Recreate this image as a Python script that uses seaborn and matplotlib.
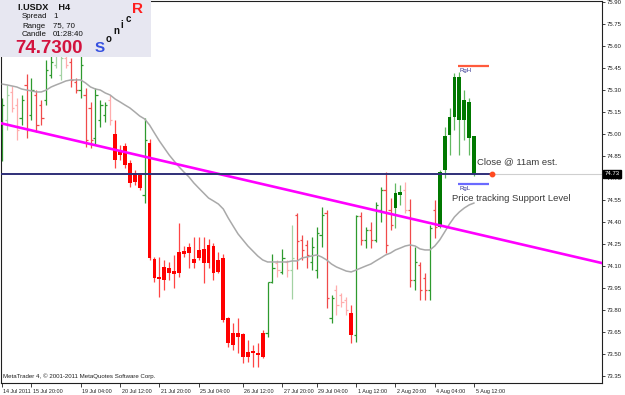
import numpy as np
import matplotlib
matplotlib.use("Agg")
import matplotlib.pyplot as plt
import matplotlib.transforms as mtransforms
from matplotlib.patches import Rectangle
import seaborn as sns

# ---------------- data (I.USDX, H4) ----------------
opens = [74.959, 75.095, 75.286, 75.197, 75.109, 75.334, 75.129, 75.265, 75.197, 75.231,
         75.402, 75.470, 75.402, 75.518, 75.490, 75.354, 75.299, 75.265, 75.177, 74.972,
         75.095, 75.129, 75.231, 74.999, 74.890, 74.918, 74.802, 74.734, 74.720, 74.584,
         74.938, 74.147, 74.025, 74.093, 74.086, 74.065, 74.195, 74.202, 74.229, 74.147,
         74.209, 74.216, 74.243, 74.236, 74.141, 74.154, 73.745, 73.643, 73.643, 73.636,
         73.514, 73.520, 73.507, 73.643, 73.643, 73.991, 74.120, 74.059, 74.127, 74.072,
         74.447, 74.277, 74.243, 74.127, 74.072, 74.311, 74.461, 73.745, 73.936, 73.902,
         73.868, 73.779, 73.629, 74.441, 74.277, 74.345, 74.277, 74.481, 74.618, 74.481,
         74.495, 74.584, 74.618, 74.481, 74.004, 74.106, 74.018, 73.936, 74.481, 74.366,
         74.754, 74.993, 75.115, 75.388, 75.095, 75.218, 74.986]
highs = [75.245, 75.334, 75.327, 75.245, 75.265, 75.409, 75.381, 75.299, 75.231, 75.504,
         75.572, 75.572, 75.572, 75.538, 75.518, 75.381, 75.572, 75.313, 75.218, 75.313,
         75.231, 75.218, 75.265, 75.095, 74.925, 74.938, 74.822, 74.754, 74.734, 75.109,
         74.965, 74.161, 74.161, 74.141, 74.127, 74.175, 74.393, 74.236, 74.256, 74.297,
         74.297, 74.297, 74.284, 74.256, 74.195, 74.181, 73.752, 73.711, 73.745, 73.643,
         73.595, 73.561, 73.575, 73.663, 73.991, 74.181, 74.141, 74.216, 74.141, 74.379,
         74.461, 74.311, 74.277, 74.297, 74.366, 74.502, 74.481, 73.902, 73.970, 73.916,
         73.888, 73.834, 74.447, 74.468, 74.366, 74.400, 74.536, 74.638, 74.740, 74.563,
         74.666, 74.652, 74.672, 74.557, 74.229, 74.127, 74.052, 74.379, 74.550, 74.754,
         75.047, 75.177, 75.415, 75.422, 75.299, 75.245, 74.986]
lows = [74.815, 75.027, 75.150, 74.959, 75.061, 74.972, 75.095, 75.013, 75.061, 75.197,
        75.381, 75.449, 75.368, 75.449, 75.320, 75.279, 75.245, 74.911, 74.904, 74.925,
        75.047, 75.081, 75.061, 74.768, 74.822, 74.768, 74.638, 74.652, 74.618, 74.529,
        74.141, 73.991, 73.888, 73.936, 74.004, 73.950, 74.025, 74.161, 74.086, 74.086,
        74.141, 73.984, 74.086, 74.004, 74.052, 73.718, 73.548, 73.527, 73.507, 73.439,
        73.445, 73.411, 73.411, 73.473, 73.616, 73.984, 74.025, 74.045, 74.025, 73.875,
        74.079, 74.141, 74.086, 74.072, 74.018, 74.229, 73.813, 73.711, 73.766, 73.820,
        73.766, 73.575, 73.582, 74.243, 74.222, 74.222, 74.263, 74.400, 74.188, 74.345,
        74.359, 74.516, 74.461, 73.957, 73.936, 73.868, 73.868, 73.868, 74.291, 74.359,
        74.700, 74.856, 75.027, 74.856, 74.959, 74.856, 74.713]
closes = [75.197, 75.265, 75.177, 75.027, 75.231, 75.027, 75.299, 75.061, 75.109, 75.436,
          75.490, 75.538, 75.518, 75.470, 75.368, 75.299, 75.470, 74.959, 74.959, 75.265,
          75.197, 75.197, 75.095, 74.822, 74.856, 74.788, 74.666, 74.672, 74.631, 74.959,
          74.154, 74.018, 74.011, 74.004, 74.052, 74.045, 74.052, 74.181, 74.188, 74.120,
          74.154, 74.120, 74.120, 74.052, 74.059, 73.732, 73.575, 73.561, 73.616, 73.479,
          73.479, 73.507, 73.493, 73.479, 73.991, 74.086, 74.072, 74.154, 74.072, 74.154,
          74.270, 74.209, 74.175, 74.229, 74.325, 74.447, 73.881, 73.881, 73.834, 73.854,
          73.800, 73.629, 74.441, 74.277, 74.345, 74.277, 74.516, 74.618, 74.243, 74.379,
          74.597, 74.604, 74.481, 74.004, 74.127, 73.936, 73.936, 74.359, 74.366, 74.740,
          74.986, 75.115, 75.388, 75.095, 75.231, 74.972, 74.730]
# B = bar, L = pale bar, C = candle ; g = green, r = red
styles = ["Bg", "Lg", "Lr", "Lr", "Bg", "Br", "Bg", "Br", "Br", "Bg",
          "Bg", "Lg", "Lg", "Lr", "Br", "Br", "Bg", "Br", "Br", "Bg",
          "Bg", "Bg", "Lr", "Cr", "Cr", "Cr", "Cr", "Cr", "Cr", "Bg",
          "Cr", "Cr", "Cr", "Cr", "Cr", "Cr", "Cr", "Cr", "Cr", "Cr",
          "Cr", "Cr", "Cr", "Cr", "Cr", "Cr", "Cr", "Cr", "Cr", "Cr",
          "Cr", "Cr", "Cr", "Cr", "Bg", "Bg", "Lr", "Bg", "Lr", "Lg",
          "Br", "Br", "Br", "Bg", "Bg", "Bg", "Br", "Bg", "Lr", "Lr",
          "Lr", "Cr", "Bg", "Br", "Bg", "Br", "Bg", "Bg", "Br", "Br",
          "Cg", "Cg", "Lr", "Br", "Bg", "Br", "Br", "Bg", "Br", "Cg",
          "Cg", "Cg", "Cg", "Cg", "Cg", "Cg", "Cg"]
ma = [75.340, 75.334, 75.327, 75.320, 75.306, 75.299, 75.293, 75.286, 75.286, 75.299,
      75.320, 75.334, 75.347, 75.361, 75.368, 75.368, 75.368, 75.347, 75.320, 75.306,
      75.299, 75.279, 75.265, 75.238, 75.218, 75.197, 75.177, 75.150, 75.122, 75.102,
      75.061, 75.006, 74.952, 74.904, 74.856, 74.815, 74.775, 74.740, 74.707, 74.666,
      74.631, 74.597, 74.563, 74.543, 74.522, 74.488, 74.427, 74.372, 74.318, 74.277,
      74.236, 74.202, 74.168, 74.141, 74.127, 74.127, 74.127, 74.127, 74.127, 74.134,
      74.134, 74.154, 74.161, 74.168, 74.175, 74.161, 74.141, 74.113, 74.093, 74.079,
      74.065, 74.059, 74.072, 74.086, 74.100, 74.113, 74.134, 74.154, 74.175, 74.188,
      74.209, 74.222, 74.236, 74.243, 74.236, 74.216, 74.209, 74.209, 74.236, 74.277,
      74.331, 74.386, 74.434, 74.468, 74.495, 74.516, 74.529]

tick_bars = [0, 6, 16, 24, 32, 40, 49, 57, 64, 72, 80, 88, 96]
tick_labels = ["14 Jul 2011", "15 Jul 20:00", "19 Jul 04:00", "20 Jul 12:00",
               "21 Jul 20:00", "25 Jul 04:00", "26 Jul 12:00", "27 Jul 20:00",
               "29 Jul 04:00", "1 Aug 12:00", "2 Aug 20:00", "4 Aug 04:00", "5 Aug 12:00"]
price_ticks = [75.90, 75.75, 75.60, 75.45, 75.30, 75.15, 75.00, 74.85, 74.70,
               74.55, 74.40, 74.25, 74.10, 73.95, 73.80, 73.65, 73.50, 73.35]
last_price = 74.73
close_mark_bar = 99.6
trend_a = (0, 75.071)
trend_b = (120, 74.135)
range_high = 75.463
range_low = 74.659
range_bars = (92.7, 99.0)

# ---------------- figure ----------------
sns.set_style("white")
plt.rcParams["font.family"] = ["Liberation Sans", "DejaVu Sans"]

W, H = 625, 395
fig = plt.figure(figsize=(W / 100, H / 100), dpi=100)
ax = fig.add_axes([1 / W, 12 / H, 601 / W, 382 / H])
ax.set_xlim(-0.2, 122.0)
ax.set_ylim(73.302, 75.906)

bar_cols = {"Bg": "#2e9a2e", "Lg": "#a3d2a3", "Br": "#f04a4a", "Lr": "#ffadad"}
for i, (o, h, l, c, s) in enumerate(zip(opens, highs, lows, closes, styles)):
    if s[0] in "BL":
        col = bar_cols[s]
        ax.vlines(i, l, h, color=col, lw=0.9, zorder=2)
        ax.hlines(o, i - 0.45, i, color=col, lw=0.9, zorder=2)
        ax.hlines(c, i, i + 0.45, color=col, lw=0.9, zorder=2)
    else:
        body = "#ff0000" if s == "Cr" else "#007800"
        wick = "#ff4545" if s == "Cr" else "#62b862"
        ax.vlines(i, l, h, color=wick, lw=0.9, zorder=2)
        lo, hi = min(o, c), max(o, c)
        ax.bar(i, max(hi - lo, 0.008), bottom=lo, width=0.78, color=body,
               linewidth=0, zorder=3)

x = np.arange(len(ma))
sns.lineplot(x=x, y=ma, color="#a9a9a9", lw=1.1, ax=ax, zorder=4)

ax.axline(trend_a, trend_b, color="#ff00ff", lw=1.9, zorder=5)
ax.hlines(last_price, -0.2, close_mark_bar, color="#2f2f78", lw=1.4, zorder=5)
ax.hlines(last_price, close_mark_bar, 122.0, color="#cfcfcf", lw=0.8, zorder=1)
ax.plot([close_mark_bar], [last_price], "o", ms=3.2, color="#ff4a20", zorder=6)

ax.hlines(range_high, *range_bars, color="#ff5a3c", lw=1.6, zorder=5)
ax.hlines(range_low, *range_bars, color="#6a6aff", lw=1.6, zorder=5)
ax.text(range_bars[0] + 0.3, range_high - 0.012, "RgH", fontsize=4.3, color="#303090",
        va="top", ha="left", zorder=6)
ax.text(range_bars[0] + 0.3, range_low - 0.012, "RgL", fontsize=4.3, color="#303090",
        va="top", ha="left", zorder=6)

ax.text(96.5, 74.809, "Close @ 11am est.", fontsize=6.8, color="#3a3a3a",
        va="center", ha="left", zorder=6)
ax.text(91.5, 74.563, "Price tracking Support Level", fontsize=6.8, color="#3a3a3a",
        va="center", ha="left", zorder=6)

# axes styling
for sp in ax.spines.values():
    sp.set_color("#202020")
    sp.set_linewidth(0.8)
ax.yaxis.tick_right()
ax.set_yticks(price_ticks)
ax.set_yticklabels([f"{p:.2f}" for p in price_ticks])
ax.tick_params(axis="y", direction="out", length=2, width=0.6, pad=1.5,
               labelsize=4.3, colors="#202020", right=True, left=False)
ax.set_xticks(tick_bars)
ax.set_xticklabels(tick_labels, ha="left")
ax.tick_params(axis="x", direction="out", length=3, width=0.6, pad=1.2,
               labelsize=3.9, colors="#202020", bottom=True)
shift = mtransforms.ScaledTranslation(1.5 / 100, 0, fig.dpi_scale_trans)
for lbl in ax.get_xticklabels():
    lbl.set_transform(lbl.get_transform() + shift)
ax.set_xlabel("")
ax.set_ylabel("")

ax.text(1.004, last_price, f"{last_price:.2f}", transform=ax.get_yaxis_transform(),
        fontsize=4.3, color="white", va="center", ha="left", clip_on=False, zorder=10,
        bbox=dict(boxstyle="square,pad=0.25", fc="black", ec="black"))

# copyright
fig.text(3 / W, 1 - 376 / H, "MetaTrader 4, \u00a9 2001-2011 MetaQuotes Software Corp.",
         fontsize=4.4, color="#202020", va="center", ha="left")

# info panel
def fx(px):
    return px / W


def fy(py):
    return 1 - py / H


fig.add_artist(Rectangle((0, fy(57)), fx(151), 57 / H, transform=fig.transFigure,
                         fc="#e7e7f1", ec="none", zorder=10))
kw = dict(zorder=11, va="center", ha="left")
fig.text(fx(18), fy(8), "I.USDX    H4", fontsize=6.6, fontweight="bold", color="#111111", **kw)
fig.text(fx(22), fy(17), "Spread", fontsize=5.7, color="#111111", **kw)
fig.text(fx(53), fy(17), "1", fontsize=5.7, color="#111111", **kw)
fig.text(fx(22), fy(26), "Range", fontsize=5.7, color="#111111", **kw)
fig.text(fx(53), fy(26), "75, 70", fontsize=5.7, color="#111111", **kw)
fig.text(fx(22), fy(35), "Candle", fontsize=5.7, color="#111111", **kw)
fig.text(fx(53), fy(35), "01:28:40", fontsize=5.7, color="#111111", **kw)
fig.text(fx(15), fy(48.5), "74.7300", fontsize=13.5, fontweight="bold", color="#d3123e", **kw)
fig.text(fx(95), fy(48), "S", fontsize=11, fontweight="bold", color="#3550e0", **kw)
fig.text(fx(106), fy(39), "o", fontsize=7, fontweight="bold", color="#111111", **kw)
fig.text(fx(113.5), fy(31.5), "n", fontsize=7, fontweight="bold", color="#111111", **kw)
fig.text(fx(120.5), fy(25), "i", fontsize=7, fontweight="bold", color="#111111", **kw)
fig.text(fx(125.5), fy(18.5), "c", fontsize=7, fontweight="bold", color="#111111", **kw)
fig.text(fx(132), fy(9), "R", fontsize=11, fontweight="bold", color="#ff1e1e", **kw)

fig.savefig("out.png", dpi=100)
